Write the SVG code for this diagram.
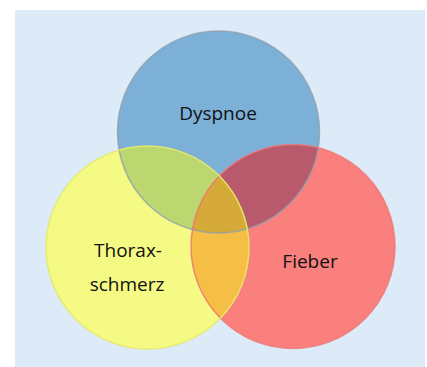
<svg xmlns="http://www.w3.org/2000/svg" width="427" height="367" viewBox="0 0 427 367">
<style>
.lbl{font-family:"Open Sans","Liberation Sans",sans-serif;font-size:19px;fill:#111;text-anchor:middle}
</style>
<defs>
<circle id="cB" cx="218.5" cy="132" r="101"/>
<circle id="cY" cx="147.5" cy="247.5" r="101.5"/>
<circle id="cR" cx="293" cy="246.5" r="102"/>
<clipPath id="clipB"><use href="#cB"/></clipPath>
<clipPath id="clipY"><use href="#cY"/></clipPath>
</defs>
<rect x="15" y="10" width="410" height="357" fill="#DDEAF7"/>
<g id="dyspnoe-fill"><use href="#cB" fill="#7CB0D7"/></g>
<g id="thorax-fill"><use href="#cY" fill="#F5FA84"/></g>
<g id="fieber-fill"><use href="#cR" fill="#F9807D"/></g>
<g id="overlaps">
<use href="#cY" fill="#BCD770" clip-path="url(#clipB)"/>
<use href="#cR" fill="#B85A6C" clip-path="url(#clipB)"/>
<use href="#cR" fill="#F5BE45" clip-path="url(#clipY)"/>
<g clip-path="url(#clipB)"><use href="#cR" fill="#D5AA38" clip-path="url(#clipY)"/></g>
</g>
<g id="outlines" fill="none" stroke-width="1.5">
<use href="#cB" stroke="#8E9FAE" stroke-opacity="0.8"/>
<use href="#cR" stroke="#F07676" stroke-opacity="0.8"/>
<use href="#cY" stroke="#E6EA6A" stroke-opacity="0.9"/>
</g>
<g id="dyspnoe"><text class="lbl" x="218" y="120">Dyspnoe</text></g>
<g id="thoraxschmerz"><text class="lbl" x="128" y="257">Thorax-</text><text class="lbl" x="127" y="291">schmerz</text></g>
<g id="fieber"><text class="lbl" x="310" y="268">Fieber</text></g>
</svg>
